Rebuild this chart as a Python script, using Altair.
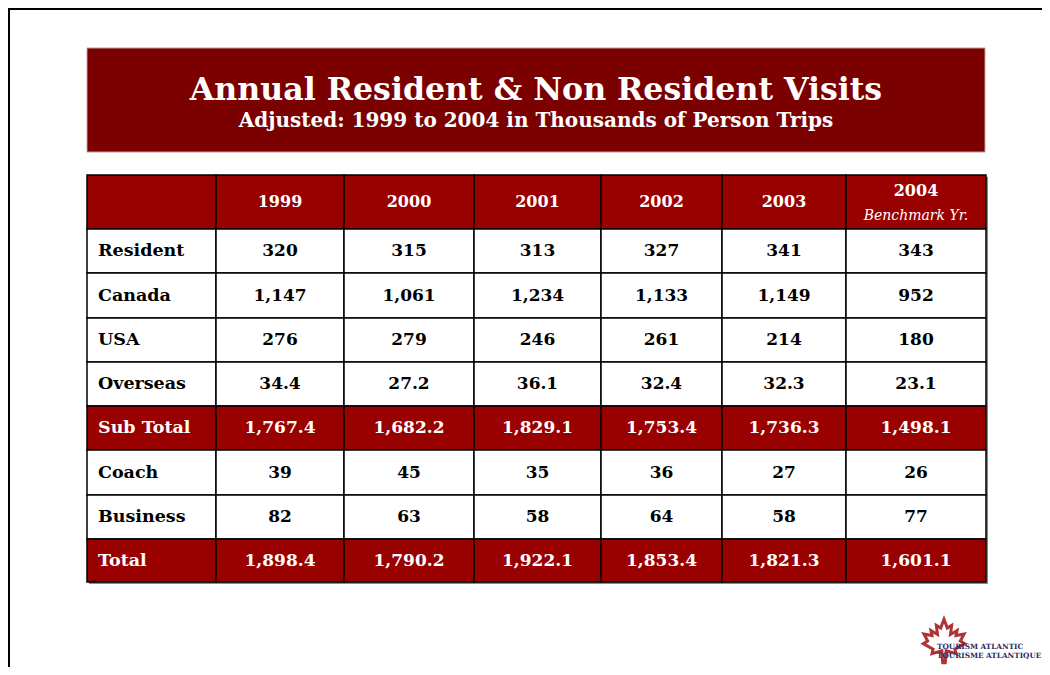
import altair as alt
import pandas as pd

# ---------------- data ----------------
title = "Annual Resident & Non Resident Visits"
subtitle = "Adjusted: 1999 to 2004 in Thousands of Person Trips"
years = ["1999", "2000", "2001", "2002", "2003", "2004"]
benchmark_note = "Benchmark Yr."
row_labels = ["Resident", "Canada", "USA", "Overseas", "Sub Total", "Coach", "Business", "Total"]
resident = [320, 315, 313, 327, 341, 343]
canada = [1147, 1061, 1234, 1133, 1149, 952]
usa = [276, 279, 246, 261, 214, 180]
overseas = [34.4, 27.2, 36.1, 32.4, 32.3, 23.1]
sub_total = [1767.4, 1682.2, 1829.1, 1753.4, 1736.3, 1498.1]
coach = [39, 45, 35, 36, 27, 26]
business = [82, 63, 58, 64, 58, 77]
total = [1898.4, 1790.2, 1922.1, 1853.4, 1821.3, 1601.1]
decimals = [0, 0, 0, 1, 1, 0, 0, 1]
highlighted_rows = ["Sub Total", "Total"]
logo_lines = ["TOURISM ATLANTIC", "TOURISME ATLANTIQUE"]

series = [resident, canada, usa, overseas, sub_total, coach, business, total]

# ---------------- layout (page pixels) ----------------
RED = "#990000"
DARK = "#7b0000"
table_left, table_top = 87, 175
col_widths = [129, 128, 130, 127, 121, 124, 140]
row_heights = [54, 44, 45, 44, 44, 44, 45, 44, 43]
box = dict(x0=87, x1=985, y0=48, y1=152)

col_edges = [table_left]
for w in col_widths:
    col_edges.append(col_edges[-1] + w)
row_edges = [table_top]
for h in row_heights:
    row_edges.append(row_edges[-1] + h)

cells, labels, values, headers = [], [], [], []
# header row
for c in range(len(col_widths)):
    cells.append(dict(x0=col_edges[c], x1=col_edges[c + 1], y0=row_edges[0], y1=row_edges[1], fill=RED))
for j, yr in enumerate(years):
    cx = (col_edges[j + 1] + col_edges[j + 2]) / 2
    cy = (row_edges[0] + row_edges[1]) / 2
    if j == len(years) - 1:
        headers.append(dict(x=cx, y=cy - 11, text=yr))
    else:
        headers.append(dict(x=cx, y=cy, text=yr))
note = [dict(x=(col_edges[-2] + col_edges[-1]) / 2, y=(row_edges[0] + row_edges[1]) / 2 + 14, text=benchmark_note)]

for i, lab in enumerate(row_labels):
    hl = lab in highlighted_rows
    fill = RED if hl else "white"
    color = "white" if hl else "black"
    y0, y1 = row_edges[i + 1], row_edges[i + 2]
    for c in range(len(col_widths)):
        cells.append(dict(x0=col_edges[c], x1=col_edges[c + 1], y0=y0, y1=y1, fill=fill))
    labels.append(dict(x=col_edges[0] + 11, y=(y0 + y1) / 2, text=lab, color=color))
    for j, v in enumerate(series[i]):
        txt = f"{v:,.{decimals[i]}f}"
        values.append(dict(x=(col_edges[j + 1] + col_edges[j + 2]) / 2, y=(y0 + y1) / 2, text=txt, color=color))

cells_df = pd.DataFrame(cells)
shadow_df = pd.DataFrame([dict(x0=table_left + 2, x1=col_edges[-1] + 2, y0=table_top + 2, y1=row_edges[-1] + 2)])
box_df = pd.DataFrame([box])
titles_df = pd.DataFrame([dict(x=(box["x0"] + box["x1"]) / 2, y=91, text=title)])
sub_df = pd.DataFrame([dict(x=(box["x0"] + box["x1"]) / 2, y=121, text=subtitle)])
labels_df = pd.DataFrame(labels)
values_df = pd.DataFrame(values)
headers_df = pd.DataFrame(headers)
note_df = pd.DataFrame(note)
frame_left = pd.DataFrame([dict(x0=8, x1=10, y0=8, y1=667)])
frame_top = pd.DataFrame([dict(x0=8, x1=1042, y0=8, y1=10)])
leaf_df = pd.DataFrame([dict(x=944, y=641)])
logo_df = pd.DataFrame([dict(x=937, y=647 + 9 * k, text=t) for k, t in enumerate(logo_lines)])

XS = alt.Scale(domain=[8, 1042], nice=False, zero=False)
YS = alt.Scale(domain=[8, 667], nice=False, zero=False, reverse=True)


def rect_enc(ch):
    return ch.encode(
        x=alt.X("x0:Q", scale=XS, axis=None), x2="x1:Q",
        y=alt.Y("y0:Q", scale=YS, axis=None), y2="y1:Q",
    )


def pt_enc(ch, color=True):
    enc = dict(
        x=alt.X("x:Q", scale=XS, axis=None),
        y=alt.Y("y:Q", scale=YS, axis=None),
        text="text:N",
    )
    if color:
        enc["color"] = alt.Color("color:N", scale=None)
    return ch.encode(**enc)


frame_l = rect_enc(alt.Chart(frame_left).mark_rect(color="black"))
frame_t = rect_enc(alt.Chart(frame_top).mark_rect(color="black"))
title_box = rect_enc(alt.Chart(box_df).mark_rect(color=DARK, stroke="#c89a9a", strokeWidth=1))
shadow = rect_enc(alt.Chart(shadow_df).mark_rect(color="#8a8a8a"))
grid = rect_enc(alt.Chart(cells_df).mark_rect(stroke="black", strokeWidth=1.5)).encode(
    fill=alt.Fill("fill:N", scale=None)
)
title_t = pt_enc(alt.Chart(titles_df).mark_text(
    font="DejaVu Serif", fontWeight="bold", fontSize=31.6, color="white", align="center", baseline="middle"), color=False)
sub_t = pt_enc(alt.Chart(sub_df).mark_text(
    font="DejaVu Serif", fontWeight="bold", fontSize=20, color="white", align="center", baseline="middle"), color=False)
head_t = pt_enc(alt.Chart(headers_df).mark_text(
    font="DejaVu Serif", fontWeight="bold", fontSize=16, color="white", align="center", baseline="middle"), color=False)
note_t = pt_enc(alt.Chart(note_df).mark_text(
    font="DejaVu Serif", fontStyle="italic", fontSize=14, color="white", align="center", baseline="middle"), color=False)
lab_t = pt_enc(alt.Chart(labels_df).mark_text(
    font="DejaVu Serif", fontWeight="bold", fontSize=17.5, align="left", baseline="middle"))
val_t = pt_enc(alt.Chart(values_df).mark_text(
    font="DejaVu Serif", fontWeight="bold", fontSize=17, align="center", baseline="middle"))

leaf_path = ("M0,-1 L0.15,-0.6 L0.35,-0.72 L0.3,-0.3 L0.6,-0.48 L0.55,-0.25 L0.92,-0.32 L0.75,0 "
             "L0.95,0.12 L0.5,0.38 L0.55,0.58 L0.1,0.45 L0.06,1 L-0.06,1 L-0.1,0.45 L-0.55,0.58 "
             "L-0.5,0.38 L-0.95,0.12 L-0.75,0 L-0.92,-0.32 L-0.55,-0.25 L-0.6,-0.48 L-0.3,-0.3 "
             "L-0.35,-0.72 L-0.15,-0.6 Z")
leaf = alt.Chart(leaf_df).mark_point(
    shape=leaf_path, size=1900, filled=False, stroke="#a01010", strokeWidth=3, opacity=0.85
).encode(x=alt.X("x:Q", scale=XS, axis=None), y=alt.Y("y:Q", scale=YS, axis=None))
logo_t = pt_enc(alt.Chart(logo_df).mark_text(
    font="DejaVu Serif", fontWeight="bold", fontSize=7.3, color="#2a2a6a", align="left", baseline="middle"), color=False)

chart = alt.layer(
    frame_l, frame_t, title_box, title_t, sub_t, shadow, grid, head_t, note_t, lab_t, val_t, leaf, logo_t
).properties(width=1034, height=659, padding=0).configure_view(stroke=None)

chart.save("out.html", embed_options={"renderer": "svg", "actions": False})
